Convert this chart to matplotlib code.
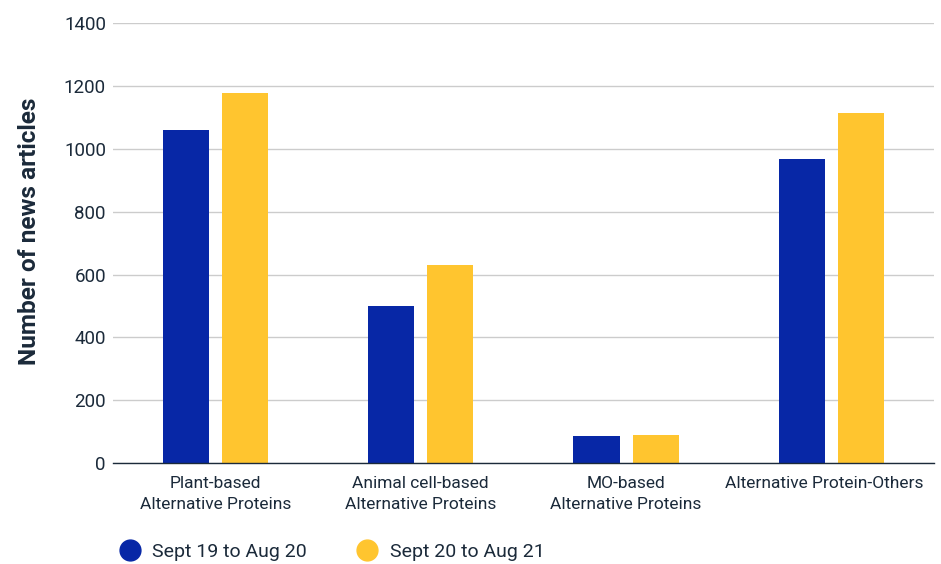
import numpy as np
import matplotlib.pyplot as plt
import matplotlib.transforms as mtransforms
from matplotlib.lines import Line2D

plt.rcParams['font.family'] = ['Roboto', 'DejaVu Sans']

categories = ["Plant-based\nAlternative Proteins",
              "Animal cell-based\nAlternative Proteins",
              "MO-based\nAlternative Proteins",
              "Alternative Protein-Others"]
series_names = ["Sept 19 to Aug 20", "Sept 20 to Aug 21"]
period1 = [1061, 500, 86, 968]
period2 = [1179, 630, 89, 1114]
yticks = [0, 200, 400, 600, 800, 1000, 1200, 1400]

blue = "#0727a6"
yellow = "#ffc52f"
text_col = "#1b2a3a"

fig = plt.figure(figsize=(9.41, 5.64), dpi=100)
ax = fig.add_axes([0.120, 0.179, 0.8725, 0.780])

x = np.arange(len(categories))
w = 0.225
off = 0.144
ax.bar(x - off, period1, width=w, color=blue, zorder=3)
ax.bar(x + off, period2, width=w, color=yellow, zorder=3)

ax.set_xlim(-0.5, 3.5)
ax.set_ylim(0, 1400)
ax.set_yticks(yticks)
ax.set_yticklabels([str(v) for v in yticks], fontsize=13.5, color=text_col)
ax.yaxis.grid(True, color="#cccccc", linewidth=1, zorder=0)
ax.tick_params(axis="y", length=0, pad=5)
ax.set_xticks(x)
ax.set_xticklabels(categories, fontsize=12.5, color=text_col, va="top", linespacing=1.5)
ax.tick_params(axis="x", length=0, pad=9)
# last label sits a bit left of its bars in the original (kept inside the frame)
last = ax.get_xticklabels()[-1]
last.set_transform(last.get_transform() + mtransforms.ScaledTranslation(-0.07, 0, fig.dpi_scale_trans))
for s in ["top", "right", "left"]:
    ax.spines[s].set_visible(False)
ax.spines["bottom"].set_color("#1b2a3a")
ax.spines["bottom"].set_linewidth(1)
ax.spines["bottom"].set_zorder(4)

ax.set_ylabel("Number of news articles", fontsize=17.6, fontweight="bold", color=text_col)
ax.yaxis.set_label_coords(-0.088, 0.527)

handles = [Line2D([0], [0], marker="o", linestyle="", markersize=15, color=c)
           for c in [blue, yellow]]
fig.legend(handles, series_names, loc="center left", bbox_to_anchor=(0.099, 0.021),
           ncol=2, frameon=False, fontsize=14, labelcolor=text_col,
           handletextpad=0.15, columnspacing=2.1)

fig.savefig("out.png", dpi=100)
